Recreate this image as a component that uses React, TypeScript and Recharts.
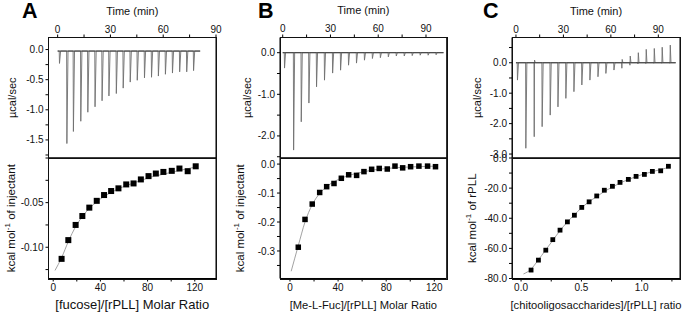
import React from "react";
import {
  LineChart,
  ComposedChart,
  Line,
  Scatter,
  XAxis,
  YAxis,
} from "recharts";

// ---------- panel A : fucose ----------
const aInjTime = [0.9, 5.1, 8.8, 13.0, 17.0, 21.1, 25.1, 29.0, 33.2, 37.1, 41.1, 45.1, 49.2, 53.2, 57.1, 61.1, 65.1, 69.2, 73.2, 77.1];
const aPeak = [-0.23, -1.56, -1.36, -1.19, -1.04, -0.95, -0.85, -0.77, -0.73, -0.64, -0.54, -0.51, -0.47, -0.46, -0.44, -0.41, -0.39, -0.37, -0.37, -0.35];
const aRatio = [7.1, 12.8, 19, 24.7, 30.6, 36.9, 43.1, 49.1, 55.3, 61.9, 68.1, 74.3, 80.8, 87, 93.4, 100.5, 107, 114, 120.8];
const aHeat = [-0.113, -0.092, -0.075, -0.065, -0.0556, -0.048, -0.0415, -0.037, -0.034, -0.0296, -0.0285, -0.024, -0.0203, -0.0174, -0.0156, -0.0144, -0.0118, -0.0148, -0.0093];
const aFitX = [1.5, 7, 13, 19, 25, 31, 37, 43, 50, 56, 62, 68, 75, 81, 87, 94, 100, 107, 114, 121];
const aFitY = [-0.126, -0.112, -0.093, -0.077, -0.065, -0.056, -0.049, -0.043, -0.038, -0.034, -0.031, -0.028, -0.025, -0.022, -0.020, -0.018, -0.016, -0.014, -0.012, -0.010];

// ---------- panel B : Me-L-Fuc ----------
const bInjTime = [1.0, 6.7, 11.5, 16.3, 21.1, 26.1, 31.2, 36.2, 41.2, 46.2, 51.2, 56.2, 61.2, 66.2, 71.2, 76.2, 81.2, 86.2, 91.2, 96.2];
const bPeak = [-0.37, -2.34, -1.66, -1.21, -0.82, -0.66, -0.49, -0.42, -0.3, -0.25, -0.18, -0.14, -0.12, -0.1, -0.08, -0.08, -0.07, -0.06, -0.06, -0.05];
const bRatio = [6.9, 12.5, 18.5, 24.7, 30.5, 36.6, 42.7, 48.8, 55.4, 61.5, 67.9, 74.2, 80.9, 87.3, 93.7, 100.3, 107.2, 114.4, 121];
const bHeat = [-0.287, -0.191, -0.138, -0.098, -0.078, -0.067, -0.049, -0.037, -0.039, -0.026, -0.018, -0.015, -0.017, -0.007, -0.013, -0.009, -0.007, -0.007, -0.009];
const bFitX = [1, 7, 12.5, 18.5, 25, 31, 37, 43, 49, 55, 62, 68, 74, 81, 87, 94, 100, 107, 114, 121];
const bFitY = [-0.37, -0.28, -0.2, -0.14, -0.1, -0.076, -0.06, -0.048, -0.039, -0.032, -0.026, -0.021, -0.018, -0.015, -0.013, -0.011, -0.01, -0.009, -0.008, -0.007];

// ---------- panel C : chitooligosaccharides ----------
const cInjTime = [0.8, 6.1, 11.4, 16.4, 21.5, 26.4, 31.4, 36.5, 41.5, 46.6, 51.7, 56.7, 61.8, 66.8, 71.9, 77.0, 82.0, 87.1, 92.1, 97.2];
const cPeak = [-0.57, -2.81, -2.43, -2.1, -1.72, -1.45, -1.17, -0.95, -0.73, -0.57, -0.46, -0.35, -0.24, -0.18, -0.08, -0.04, -0.03, -0.02, -0.02, -0.02];
const cRise = [0, 0, 0.09, 0, 0, 0, 0, 0, 0, 0, 0, 0, 0, 0.11, 0.22, 0.33, 0.44, 0.47, 0.51, 0.58];
const cRatio = [0.083, 0.144, 0.205, 0.263, 0.323, 0.384, 0.442, 0.503, 0.564, 0.627, 0.69, 0.757, 0.82, 0.889, 0.953, 1.022, 1.088, 1.157, 1.221];
const cHeat = [-74.4, -67.8, -61.2, -54.2, -47.9, -42.4, -38.0, -32.8, -29.1, -25.2, -21.4, -18.8, -16.2, -14.2, -12.2, -10.9, -8.9, -8.5, -5.5];
const cFitX = [0.02, 0.08, 0.14, 0.2, 0.26, 0.32, 0.38, 0.44, 0.5, 0.56, 0.63, 0.69, 0.76, 0.82, 0.89, 0.95, 1.02, 1.09, 1.16, 1.22];
const cFitY = [-77, -74, -68, -61.5, -55, -48.5, -42.8, -37.8, -33.2, -29.2, -25.5, -22.2, -19.2, -16.6, -14.3, -12.4, -10.6, -9, -7.6, -6.3];

// ticks
const timeTicks = [0, 15, 30, 45, 60, 75, 90];
const aPowerTicks = [-1.75, -1.5, -1.25, -1, -0.75, -0.5, -0.25, 0];
const bPowerTicks = [-2.5, -2, -1.5, -1, -0.5, 0];
const cPowerTicks = [-3, -2.5, -2, -1.5, -1, -0.5, 0, 0.5];
const molarTicks = [0, 20, 40, 60, 80, 100, 120];
const aHeatTicks = [-0.125, -0.1, -0.075, -0.05, -0.025, 0];
const bHeatTicks = [-0.35, -0.3, -0.25, -0.2, -0.15, -0.1, -0.05, 0];
const cRatioTicks = [0, 0.25, 0.5, 0.75, 1, 1.25];
const cHeatTicks = [-80, -70, -60, -50, -40, -30, -20, -10, 0];

const FONT = "'Liberation Sans', Arial, sans-serif";
const INK = "#111";

function thermo(times: number[], peaks: number[], base: number, end: number, rises?: number[]) {
  const rows = [{ t: 0, v: base }];
  times.forEach((t, i) => {
    rows.push({ t, v: base });
    rows.push({ t: t + 0.15, v: peaks[i] });
    if (rises && rises[i] > 0) rows.push({ t: t + 0.35, v: rises[i] });
    rows.push({ t: t + 0.8, v: base });
  });
  rows.push({ t: end, v: base });
  return rows;
}

function pairs(xs: number[], ys: number[]) {
  return xs.map((x, i) => ({ x, y: ys[i] }));
}

const fmt = (step: number, digits: number, skip: number[] = []) => (v: number) => {
  const k = v / step;
  if (Math.abs(k - Math.round(k)) > 1e-6) return "";
  if (skip.some((s) => Math.abs(s - v) < 1e-9)) return "";
  return v.toFixed(digits);
};

const tickStyle = { fontSize: 10, fill: INK, fontFamily: FONT };

type PanelProps = {
  x0: number;
  plotL: number;
  plotR: number;
  letter: string;
  letterX: number;
  powerLabelX: number;
  heatLabelX: number;
  heatLabel: string;
  xTitle: string;
  xTitleSize: number;
  thermoRows: { t: number; v: number }[];
  baseline: number;
  baseEnd: number;
  tDomain: [number, number];
  pDomain: [number, number];
  pTicks: number[];
  pFmt: (v: number) => string;
  points: { x: number; y: number }[];
  fit: { x: number; y: number }[];
  mDomain: [number, number];
  mTicks: number[];
  mFmt: (v: number) => string;
  hDomain: [number, number];
  hTicks: number[];
  hFmt: (v: number) => string;
  sq: number;
};

const TOP = 37.5;
const MID = 158;
const BOT = 278.5;
const RIGHT_PAD = 14;

function Panel(p: PanelProps) {
  const w = p.plotR - p.x0 + RIGHT_PAD;
  const yw = p.plotL - p.x0;
  const pw = p.plotR - p.plotL;
  const topH = MID + 4;
  const botTop = MID - 4;
  const botH = 313 - botTop;
  const cx = (p.plotL + p.plotR) / 2 - p.x0;

  const topTitle = () => (
    <g fontFamily={FONT}>
      <text x={p.letterX - p.x0} y={18} fontSize={21.5} fontWeight="bold" fill="#000">
        {p.letter}
      </text>
      <text x={cx} y={14.5} fontSize={11} textAnchor="middle" fill={INK}>
        Time (min)
      </text>
    </g>
  );
  const powerTitle = () => (
    <text
      transform={`translate(${p.powerLabelX - p.x0},${(TOP + MID) / 2}) rotate(-90)`}
      textAnchor="middle"
      dominantBaseline="central"
      fontSize={11}
      fontFamily={FONT}
      fill={INK}
    >
      µcal/sec
    </text>
  );
  const heatTitle = () => (
    <text
      transform={`translate(${p.heatLabelX - p.x0},${(MID + BOT) / 2 - botTop}) rotate(-90)`}
      textAnchor="middle"
      dominantBaseline="central"
      fontSize={11.5}
      fontFamily={FONT}
      fill={INK}
    >
      kcal mol
      <tspan dy={-4} fontSize={8}>-1</tspan>
      <tspan dy={4}> {p.heatLabel}</tspan>
    </text>
  );
  const xTitle = () => (
    <text
      x={cx}
      y={313 - botTop - 4}
      textAnchor="middle"
      fontSize={p.xTitleSize}
      fontFamily={FONT}
      fill={INK}
    >
      {p.xTitle}
    </text>
  );

  const square = (props: any) => (
    <rect
      x={props.cx - p.sq / 2}
      y={props.cy - p.sq / 2}
      width={p.sq}
      height={p.sq}
      fill="#000"
    />
  );

  const axisCommon = {
    stroke: "#000",
    tickSize: 3,
    tickMargin: 2,
    interval: 0 as const,
    allowDataOverflow: true,
    type: "number" as const,
  };

  // plot frames (box around each plot area)
  const frame = (top: number, height: number): React.CSSProperties => ({
    position: "absolute",
    left: Math.round(p.plotL - 0.5),
    top: Math.round(top - 0.5),
    width: Math.round(pw) + 1,
    height: Math.round(height) + 1,
    border: "1px solid #111",
    boxSizing: "border-box",
    pointerEvents: "none",
    zIndex: 5,
  });

  return (
    <>
      <div style={{ position: "absolute", left: p.x0, top: 0 }}>
        <LineChart
          width={w}
          height={topH}
          data={p.thermoRows}
          margin={{ top: 0, right: 0, bottom: 0, left: 0 }}
        >
          <XAxis
            {...axisCommon}
            xAxisId="t"
            orientation="top"
            dataKey="t"
            domain={p.tDomain}
            ticks={timeTicks}
            tickFormatter={fmt(30, 0)}
            tick={tickStyle}
            height={TOP}
            label={{ content: topTitle }}
          />
          <YAxis
            {...axisCommon}
            yAxisId="l"
            domain={p.pDomain}
            ticks={p.pTicks}
            tickFormatter={p.pFmt}
            tick={tickStyle}
            width={yw}
            label={{ content: powerTitle }}
          />
          <YAxis
            {...axisCommon}
            yAxisId="r"
            orientation="right"
            domain={p.pDomain}
            ticks={p.pTicks}
            tick={false}
            width={RIGHT_PAD}
          />
          <XAxis
            {...axisCommon}
            xAxisId="b"
            orientation="bottom"
            dataKey="t"
            domain={p.tDomain}
            ticks={timeTicks}
            tick={false}
            height={4}
          />
          <Line
            xAxisId="t"
            yAxisId="l"
            dataKey="v"
            type="linear"
            dot={false}
            stroke="#6f6f6f"
            strokeWidth={0.9}
            isAnimationActive={false}
          />
          <Line
            xAxisId="t"
            yAxisId="l"
            data={[
              { t: 0, v: p.baseline },
              { t: p.baseEnd, v: p.baseline },
            ]}
            dataKey="v"
            type="linear"
            dot={false}
            stroke="#3a3a3a"
            strokeWidth={1}
            isAnimationActive={false}
          />
        </LineChart>
      </div>
      <div style={{ position: "absolute", left: p.x0, top: botTop }}>
        <ComposedChart
          width={w}
          height={botH}
          margin={{ top: 0, right: 0, bottom: 0, left: 0 }}
        >
          <XAxis
            {...axisCommon}
            xAxisId="b"
            orientation="bottom"
            dataKey="x"
            domain={p.mDomain}
            ticks={p.mTicks}
            tickFormatter={p.mFmt}
            tick={tickStyle}
            height={313 - BOT}
            label={{ content: xTitle }}
          />
          <XAxis
            {...axisCommon}
            xAxisId="t"
            orientation="top"
            dataKey="x"
            domain={p.mDomain}
            ticks={p.mTicks}
            tick={false}
            height={4}
          />
          <YAxis
            {...axisCommon}
            yAxisId="l"
            domain={p.hDomain}
            ticks={p.hTicks}
            tickFormatter={p.hFmt}
            tick={tickStyle}
            width={yw}
            label={{ content: heatTitle }}
          />
          <YAxis
            {...axisCommon}
            yAxisId="r"
            orientation="right"
            domain={p.hDomain}
            ticks={p.hTicks}
            tick={false}
            width={RIGHT_PAD}
          />
          <Line
            xAxisId="b"
            yAxisId="l"
            data={p.fit}
            dataKey="y"
            type="monotone"
            dot={false}
            stroke="#8a8a8a"
            strokeWidth={0.8}
            isAnimationActive={false}
          />
          <Scatter
            xAxisId="b"
            yAxisId="l"
            data={p.points}
            dataKey="y"
            shape={square}
            isAnimationActive={false}
          />
        </ComposedChart>
      </div>
      <div style={frame(TOP, MID - TOP)} />
      <div style={frame(MID, BOT - MID)} />
    </>
  );
}

export default function App() {
  return (
    <div
      style={{
        position: "absolute",
        left: 0,
        top: 0,
        width: 683,
        height: 313,
        overflow: "hidden",
        background: "#fff",
        fontFamily: FONT,
      }}
    >
      <Panel
        x0={0}
        plotL={48.5}
        plotR={216}
        letter="A"
        letterX={22}
        powerLabelX={12}
        heatLabelX={11}
        heatLabel="of injectant"
        xTitle="[fucose]/[rPLL] Molar Ratio"
        xTitleSize={13}
        thermoRows={thermo(aInjTime, aPeak, -0.025, 81)}
        baseline={-0.025}
        baseEnd={81}
        tDomain={[-5.2, 90]}
        pDomain={[-1.8, 0.2]}
        pTicks={aPowerTicks}
        pFmt={fmt(0.5, 1)}
        points={pairs(aRatio, aHeat)}
        fit={pairs(aFitX, aFitY)}
        mDomain={[-4, 138]}
        mTicks={molarTicks}
        mFmt={fmt(40, 0)}
        hDomain={[-0.135, 0]}
        hTicks={aHeatTicks}
        hFmt={fmt(0.05, 2, [0])}
        sq={6}
      />
      <Panel
        x0={230}
        plotL={280}
        plotR={446.7}
        letter="B"
        letterX={258}
        powerLabelX={246.7}
        heatLabelX={240.3}
        heatLabel="of injectant"
        xTitle="[Me-L-Fuc]/[rPLL] Molar Ratio"
        xTitleSize={11.2}
        thermoRows={thermo(bInjTime, bPeak, 0, 101)}
        baseline={0}
        baseEnd={101}
        tDomain={[-1.7, 103]}
        pDomain={[-2.53, 0.365]}
        pTicks={bPowerTicks}
        pFmt={fmt(1, 1)}
        points={pairs(bRatio, bHeat)}
        fit={pairs(bFitX, bFitY)}
        mDomain={[-8.3, 130.3]}
        mTicks={molarTicks}
        mFmt={fmt(40, 0)}
        hDomain={[-0.395, 0.021]}
        hTicks={bHeatTicks}
        hFmt={fmt(0.1, 1)}
        sq={5.5}
      />
      <Panel
        x0={462}
        plotL={512}
        plotR={680}
        letter="C"
        letterX={483}
        powerLabelX={476.7}
        heatLabelX={471.7}
        heatLabel="of rPLL"
        xTitle="[chitooligosaccharides]/[rPLL] ratio"
        xTitleSize={11.2}
        thermoRows={thermo(cInjTime, cPeak, 0, 101, cRise)}
        baseline={0}
        baseEnd={101}
        tDomain={[-2.5, 103.7]}
        pDomain={[-3.13, 0.83]}
        pTicks={cPowerTicks}
        pFmt={fmt(1, 1)}
        points={pairs(cRatio, cHeat)}
        fit={pairs(cFitX, cFitY)}
        mDomain={[-0.075, 1.317]}
        mTicks={cRatioTicks}
        mFmt={fmt(0.5, 1)}
        hDomain={[-80, 0]}
        hTicks={cHeatTicks}
        hFmt={fmt(20, 1)}
        sq={4.8}
      />
    </div>
  );
}
